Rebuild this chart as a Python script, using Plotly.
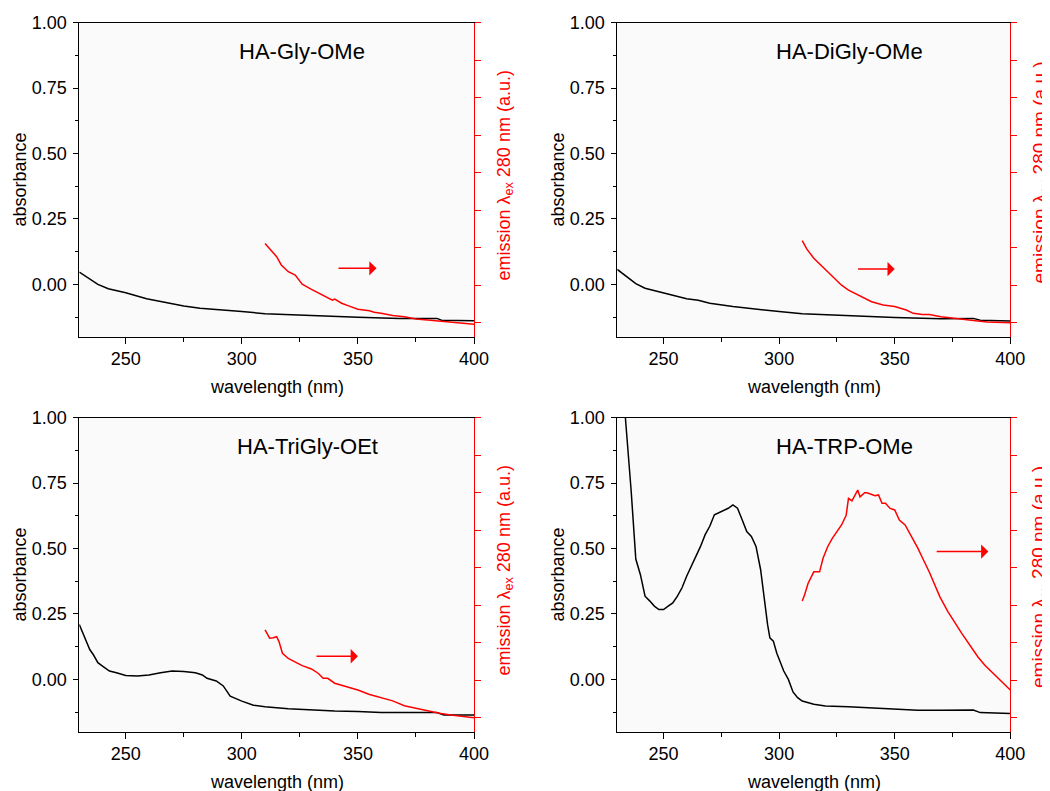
import plotly.graph_objects as go

FONT = "Arial, 'Liberation Sans', sans-serif"
RED = "#ff0000"

panel_titles = ["HA-Gly-OMe", "HA-DiGly-OMe", "HA-TriGly-OEt", "HA-TRP-OMe"]

# ---- HA-Gly-OMe ----
gly_abs_x = [230, 234, 238, 242.5, 250, 259, 267.5, 275, 282, 290, 300, 310, 325, 340, 350, 368, 384, 386, 400]
gly_abs_y = [0.047, 0.025, 0.0, -0.017, -0.032, -0.055, -0.07, -0.083, -0.091, -0.098, -0.104, -0.112,
             -0.118, -0.123, -0.126, -0.130, -0.130, -0.137, -0.139]
gly_em_x = [310, 312, 315, 317, 320, 323, 326, 330, 335, 339, 340, 343, 346, 350, 355, 357, 360, 365,
            370, 375, 380, 385, 390, 395, 400]
gly_em_y = [2.11, 1.98, 1.76, 1.54, 1.36, 1.27, 1.03, 0.89, 0.74, 0.60, 0.63, 0.52, 0.45, 0.36, 0.32,
            0.28, 0.25, 0.19, 0.16, 0.10, 0.07, 0.04, 0.01, -0.02, -0.04]

# ---- HA-DiGly-OMe ----
digly_abs_x = [230, 235, 238, 242, 250, 260, 265, 270, 280, 290, 300, 310, 325, 340, 350, 370, 384, 387, 400]
digly_abs_y = [0.057, 0.025, 0.003, -0.015, -0.032, -0.055, -0.061, -0.072, -0.085, -0.095, -0.104,
               -0.112, -0.118, -0.125, -0.127, -0.131, -0.130, -0.137, -0.140]
digly_em_x = [310, 312, 315, 318, 320, 323, 327, 330, 335, 340, 345, 350, 355, 358, 362, 365, 370, 375,
              380, 385, 390, 395, 400]
digly_em_y = [2.19, 1.96, 1.72, 1.54, 1.40, 1.23, 1.00, 0.87, 0.71, 0.56, 0.47, 0.43, 0.34, 0.25, 0.22,
              0.22, 0.16, 0.12, 0.07, 0.05, 0.02, 0.0, 0.0]

# ---- HA-TriGly-OEt ----
trigly_abs_x = [230, 232, 234.5, 236, 238, 240, 243, 246, 250, 255, 260, 265, 270, 275, 280, 283, 285,
                289, 292, 295, 297, 300, 305, 310, 320, 330, 340, 350, 360, 370, 384, 387, 400]
trigly_abs_y = [0.21, 0.17, 0.114, 0.095, 0.064, 0.051, 0.032, 0.025, 0.015, 0.013, 0.017, 0.025, 0.032,
                0.030, 0.025, 0.017, 0.004, -0.006, -0.025, -0.064, -0.072, -0.083, -0.099, -0.105,
                -0.112, -0.117, -0.121, -0.123, -0.127, -0.127, -0.127, -0.136, -0.136]
trigly_em_x = [310, 312, 313.5, 315, 316, 317.5, 320, 323, 326, 330, 333, 335, 337, 340, 345, 350, 355,
               360, 365, 370, 375, 380, 385, 390, 395, 400]
trigly_em_y = [2.34, 2.12, 2.13, 2.16, 2.03, 1.72, 1.58, 1.49, 1.39, 1.30, 1.18, 1.05, 1.05, 0.92, 0.83,
               0.74, 0.62, 0.53, 0.45, 0.32, 0.25, 0.18, 0.12, 0.07, 0.04, 0.0]

# ---- HA-TRP-OMe ----
trp_abs_x = [232.5, 233.5, 236, 238, 240, 242, 244, 246, 248, 250, 252, 254, 256, 258, 260, 263, 266,
             268, 270, 272, 275, 278, 280, 282, 284, 286, 288, 290, 292, 293, 294, 295, 296, 297.5, 299,
             300.5, 302, 304, 306, 308, 310, 315, 320, 330, 340, 350, 360, 370, 384, 387, 400]
trp_abs_y = [1.15, 1.0, 0.72, 0.46, 0.40, 0.318, 0.30, 0.28, 0.267, 0.267, 0.28, 0.292, 0.318, 0.35,
             0.394, 0.451, 0.508, 0.553, 0.585, 0.629, 0.642, 0.654, 0.667, 0.654, 0.61, 0.565, 0.546,
             0.508, 0.419, 0.35, 0.273, 0.21, 0.159, 0.146, 0.10, 0.064, 0.032, 0.0, -0.048, -0.07,
             -0.083, -0.095, -0.102, -0.105, -0.11, -0.114, -0.118, -0.118, -0.117, -0.127, -0.13]
trp_em_x = [310, 311, 312.5, 314, 315, 316, 317.5, 319, 321, 323, 325, 327, 329, 330, 331.5, 333, 334,
            335, 337, 338, 340, 341.5, 343, 344.5, 346, 348, 350, 352, 354.5, 357, 360, 362.5, 365, 369.5,
            373, 379, 383, 386, 389, 393.5, 397, 400]
trp_em_y = [3.11, 3.27, 3.58, 3.76, 3.89, 3.89, 3.89, 4.25, 4.56, 4.78, 4.96, 5.14, 5.40, 5.85, 5.78,
            5.94, 6.07, 5.89, 6.0, 6.0, 5.96, 5.92, 5.94, 5.72, 5.72, 5.58, 5.54, 5.27, 5.14, 4.87, 4.52,
            4.20, 3.88, 3.23, 2.83, 2.25, 1.89, 1.62, 1.40, 1.14, 0.92, 0.74]

abs_x = [gly_abs_x, digly_abs_x, trigly_abs_x, trp_abs_x]
abs_y = [gly_abs_y, digly_abs_y, trigly_abs_y, trp_abs_y]
em_x = [gly_em_x, digly_em_x, trigly_em_x, trp_em_x]
em_y = [gly_em_y, digly_em_y, trigly_em_y, trp_em_y]

# arrows (start x, end x, level on emission axis)
arrow_x0 = [341, 333.5, 331.5, 367.5]
arrow_x1 = [358, 350, 350, 390.5]
arrow_lvl = [1.45, 1.43, 1.64, 4.43]

# ---- layout geometry (page pixels; the page body has an 8px margin) ----
OFF = 8
W, H = 1050 - OFF, 791 - OFF
col_px = [(79.3, 474.0), (617.3, 1010.3)]
row_px = [(22.7, 336.7), (417.7, 731.7)]
title_px = [(301.7, 51.7), (849.0, 51.7), (307.3, 446.7), (844.3, 446.7)]
abs_lbl_px = [(19.5, 180.0), (557.5, 180.0), (19.5, 575.0), (557.5, 575.0)]
em_lbl_px = [(505.0, 175.5), (1040.0, 172.5), (505.0, 570.5), (1040.0, 577.0)]
em_lbl_size = [18, 19, 18, 19]
wl_lbl_px = [(276.7, 386.7), (813.8, 386.7), (276.7, 781.7), (813.8, 781.7)]


def px(xp, yp):
    return (xp - OFF) / W, 1 - (yp - OFF) / H


fig = go.Figure()
layout = dict(
    width=W, height=H,
    margin=dict(l=0, r=0, t=0, b=0),
    paper_bgcolor="white",
    plot_bgcolor="#fafafa",
    showlegend=False,
    font=dict(family=FONT, size=18, color="black"),
)
annotations = []

for k in range(4):
    r, c = divmod(k, 2)
    xa = f"x{k + 1}" if k else "x"
    ya = f"y{2 * k + 1}" if k else "y"
    yb = f"y{2 * k + 2}"
    xkey = f"xaxis{k + 1}" if k else "xaxis"
    yakey = f"yaxis{2 * k + 1}" if k else "yaxis"
    ybkey = f"yaxis{2 * k + 2}"

    fig.add_trace(go.Scatter(x=abs_x[k], y=abs_y[k], mode="lines", xaxis=xa, yaxis=ya,
                             line=dict(color="black", width=1.5)))
    fig.add_trace(go.Scatter(x=em_x[k], y=em_y[k], mode="lines", xaxis=xa, yaxis=yb,
                             line=dict(color=RED, width=1.5)))

    x0, x1 = col_px[c]
    y0, y1 = row_px[r]
    dx0, dy0 = px(x0, y1)
    dx1, dy1 = px(x1, y0)
    layout[xkey] = dict(
        domain=[dx0, dx1], anchor=ya, range=[230, 400],
        tickvals=[250, 300, 350, 400], ticks="outside", ticklen=6, tickwidth=1, tickcolor="black",
        minor=dict(tickvals=[275, 325, 375], ticks="outside", ticklen=4, tickcolor="black"),
        showline=True, linecolor="black", linewidth=1, mirror=True,
        showgrid=False, zeroline=False, tickfont=dict(size=18), automargin=False,
    )
    layout[yakey] = dict(
        domain=[dy0, dy1], anchor=xa, range=[-0.2, 1.0],
        tickvals=[0, 0.25, 0.5, 0.75, 1.0], tickformat=".2f",
        ticks="outside", ticklen=5, tickwidth=1, tickcolor="black",
        minor=dict(tickvals=[-0.125, 0.125, 0.375, 0.625, 0.875], ticks="outside", ticklen=3,
                   tickcolor="black"),
        showline=True, linecolor="black", linewidth=1,
        showgrid=False, zeroline=False, tickfont=dict(size=18), automargin=False,
        ticklabelstandoff=3,
    )
    layout[ybkey] = dict(
        overlaying=ya, anchor=xa, side="right", range=[-0.373, 8],
        tickvals=[0, 1, 2, 3, 4, 5, 6, 7, 8], showticklabels=False,
        ticks="outside", ticklen=6, tickwidth=1, tickcolor=RED,
        showline=True, linecolor=RED, linewidth=1,
        showgrid=False, zeroline=False, automargin=False,
    )

    tx, ty = px(*title_px[k])
    annotations.append(dict(text=panel_titles[k], x=tx, y=ty, xref="paper", yref="paper",
                            showarrow=False, xanchor="center", yanchor="middle",
                            font=dict(size=22, family=FONT, color="black")))
    ax_, ay_ = px(*abs_lbl_px[k])
    annotations.append(dict(text="absorbance", x=ax_, y=ay_, xref="paper", yref="paper",
                            showarrow=False, textangle=-90, xanchor="center", yanchor="middle",
                            font=dict(size=18, family=FONT, color="black")))
    ex, ey = px(*em_lbl_px[k])
    annotations.append(dict(text="emission λ<sub>ex</sub> 280 nm (a.u.)", x=ex, y=ey,
                            xref="paper", yref="paper", showarrow=False, textangle=-90,
                            xanchor="center", yanchor="middle",
                            font=dict(size=em_lbl_size[k], family=FONT, color=RED)))
    wx, wy = px(*wl_lbl_px[k])
    annotations.append(dict(text="wavelength (nm)", x=wx, y=wy, xref="paper", yref="paper",
                            showarrow=False, xanchor="center", yanchor="middle",
                            font=dict(size=18, family=FONT, color="black")))
    annotations.append(dict(text="", x=arrow_x1[k], y=arrow_lvl[k], xref=xa, yref=yb,
                            ax=arrow_x0[k], ay=arrow_lvl[k], axref=xa, ayref=yb,
                            showarrow=True, arrowhead=1, arrowsize=1.6, arrowwidth=1.5,
                            arrowcolor=RED, standoff=0, startstandoff=0))

layout["annotations"] = annotations
fig.update_layout(**layout)
fig.write_html("out.html")
